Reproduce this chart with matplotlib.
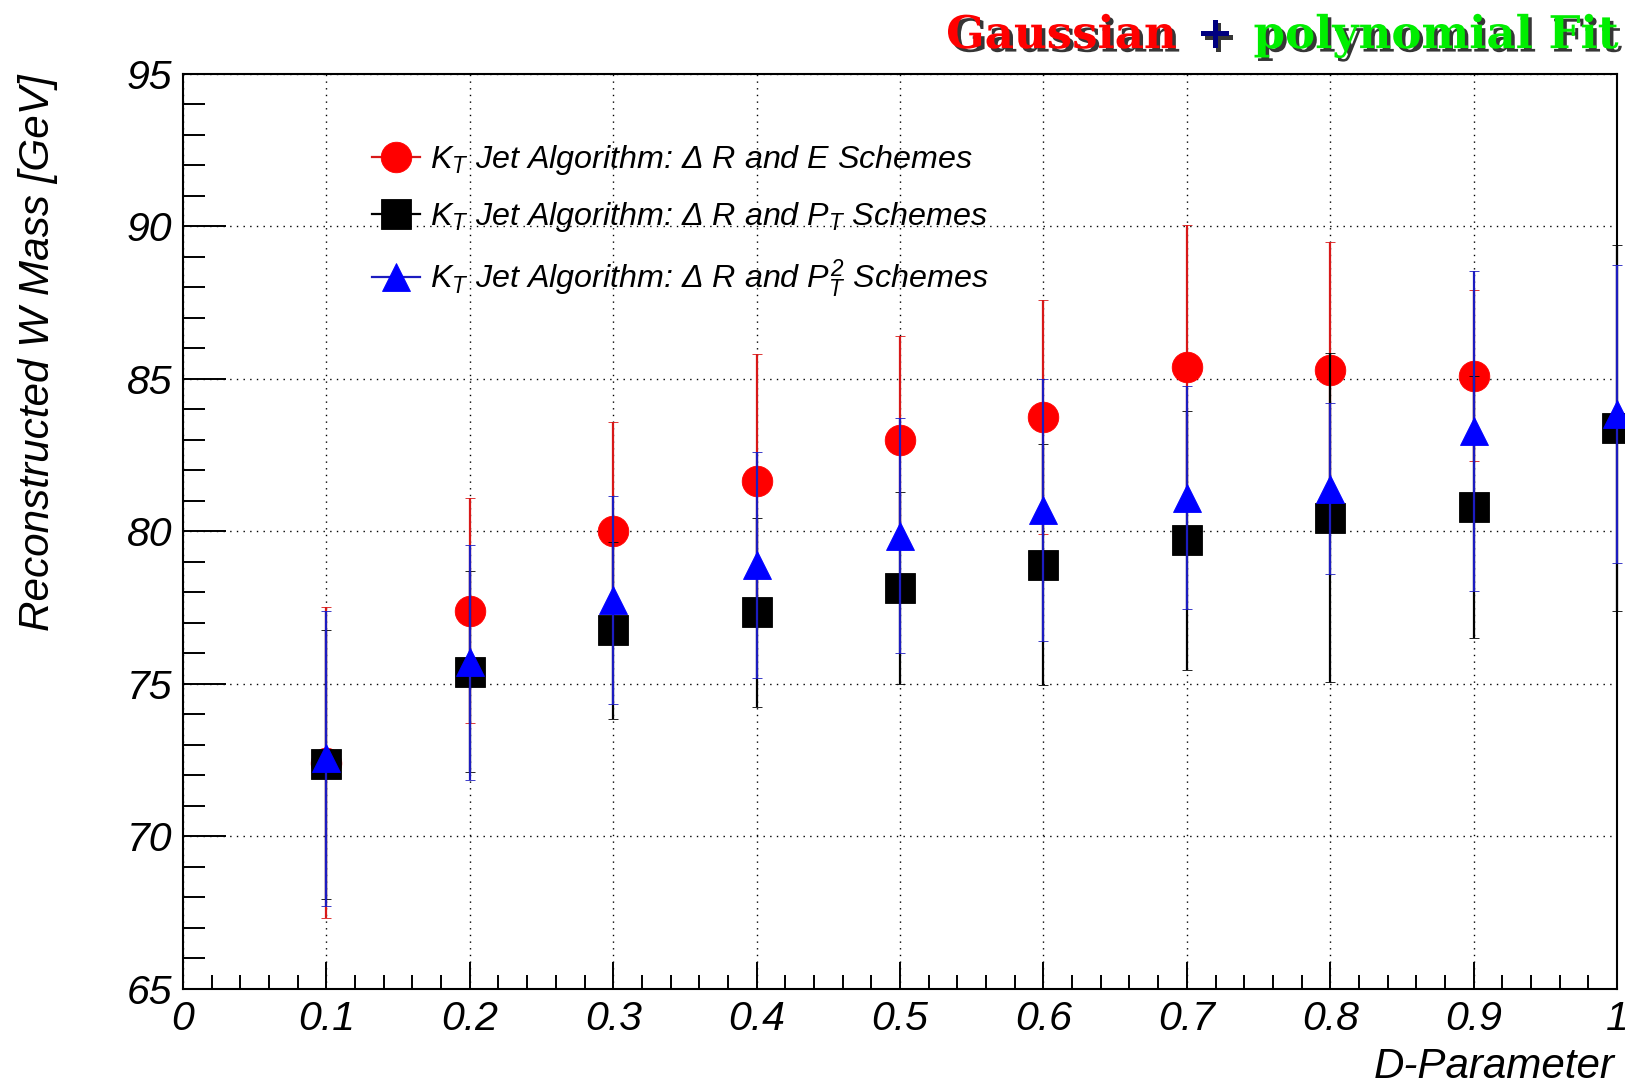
import matplotlib
matplotlib.use("Agg")
import matplotlib.pyplot as plt
import matplotlib.patheffects as pe
from matplotlib.lines import Line2D
from matplotlib.ticker import MultipleLocator, FuncFormatter
from matplotlib.offsetbox import TextArea, HPacker, AnchoredOffsetbox

# D-parameter values of the kT jet algorithm
d_param = [0.1, 0.2, 0.3, 0.4, 0.5, 0.6, 0.7, 0.8, 0.9, 1.0]

# Delta R and E recombination schemes
d_param_e = [0.1, 0.2, 0.3, 0.4, 0.5, 0.6, 0.7, 0.8, 0.9]
mass_e = [72.4, 77.4, 80.0, 81.65, 83.0, 83.75, 85.4, 85.3, 85.1]
err_e = [5.1, 3.7, 3.6, 4.15, 3.4, 3.85, 4.65, 4.2, 2.8]

# Delta R and PT schemes
mass_pt = [72.35, 75.4, 76.75, 77.35, 78.15, 78.9, 79.7, 80.45, 80.8, 83.4]
err_pt = [4.4, 3.3, 2.9, 3.1, 3.15, 3.95, 4.25, 5.4, 4.3, 6.0]

# Delta R and PT^2 schemes
mass_pt2 = [72.55, 75.7, 77.75, 78.9, 79.85, 80.7, 81.1, 81.4, 83.3, 83.85]
err_pt2 = [4.85, 3.85, 3.4, 3.7, 3.85, 4.3, 3.65, 2.8, 5.25, 4.9]

labels = [
    r"$K_{T}$ Jet Algorithm: Δ R and E Schemes",
    r"$K_{T}$ Jet Algorithm: Δ R and $P_{T}$ Schemes",
    r"$K_{T}$ Jet Algorithm: Δ R and $P_{T}^{2}$ Schemes",
]

plt.rcParams["font.family"] = ["Liberation Sans", "DejaVu Sans"]
plt.rcParams["mathtext.fontset"] = "custom"
plt.rcParams["mathtext.it"] = "Liberation Sans:italic"
plt.rcParams["mathtext.rm"] = "Liberation Sans:italic"

fig = plt.figure(figsize=(16.25, 10.85), dpi=100)
ax = fig.add_axes([0.1126, 0.0889, 0.8825, 0.8429])
ax.set_xlim(0, 1)
ax.set_ylim(65, 95)

grid_style = dict(color="black", lw=1.0, ls=(0, (1, 3.8)))
ax.grid(True, which="major", **grid_style)
ax.set_axisbelow(True)

common = dict(capsize=3.6, elinewidth=1.6, capthick=1.6, clip_on=False,
              linestyle="none")
series = [
    (d_param_e, mass_e, err_e, "o", "#ff0000", "#d81818", 22),
    (d_param, mass_pt, err_pt, "s", "#000000", "#000000", 22),
    (d_param, mass_pt2, err_pt2, "^", "#0000ff", "#1c1cc0", 20.5),
]
handles = []
for z, (xs, ys, es, mk, mc, ec, ms) in enumerate(series):
    cont = ax.errorbar(xs, ys, yerr=es, marker=mk, ms=ms, mfc=mc, mec=mc,
                       mew=0.6, ecolor=ec, zorder=3 + z, **common)
    for art in cont.lines[1] + cont.lines[2]:
        art.set_clip_on(False)
    handles.append(Line2D([], [], color=ec, lw=1.6, marker=mk, ms=ms,
                          mfc=mc, mec=mc, mew=0.6))

leg = ax.legend(handles, labels, loc="upper left",
                bbox_to_anchor=(0.1318, 0.9245), frameon=False,
                handlelength=1.5, handletextpad=0.3,
                labelspacing=0.72, borderpad=0, borderaxespad=0,
                prop=dict(family="Liberation Sans", style="italic", size=23.2))

# axis frame and ticks
for sp in ax.spines.values():
    sp.set_linewidth(1.5)
ax.xaxis.set_major_locator(MultipleLocator(0.1))
ax.xaxis.set_minor_locator(MultipleLocator(0.02))
ax.yaxis.set_major_locator(MultipleLocator(5))
ax.yaxis.set_minor_locator(MultipleLocator(1))
ax.xaxis.set_major_formatter(FuncFormatter(lambda v, p: f"{v:g}"))
ax.tick_params(axis="both", which="both", direction="in", width=1.4,
               top=False, right=False)
ax.tick_params(axis="x", which="major", length=19.5, pad=8)
ax.tick_params(axis="x", which="minor", length=10)
ax.tick_params(axis="y", which="major", length=31, pad=7.5)
ax.tick_params(axis="y", which="minor", length=16)
for lab in ax.get_xticklabels() + ax.get_yticklabels():
    lab.set_fontsize(29.5)
    lab.set_fontstyle("italic")

ax.set_xlabel("D-Parameter", fontsize=30.3, style="italic", loc="right")
ax.xaxis.set_label_coords(0.998, -0.064)
ax.xaxis.label.set_va("top")
ax.set_ylabel("Reconstructed W Mass [GeV]", fontsize=30.4, style="italic",
              loc="top")
ax.yaxis.set_label_coords(-0.0874, 1.0)

# heading with drop shadow
shadow = [pe.SimplePatchShadow(offset=(2.5, -2.5), shadow_rgbFace="#202020",
                               alpha=0.9), pe.Normal()]
tprops = dict(fontsize=32.5, fontweight="bold", family="DejaVu Serif",
              style="normal", path_effects=shadow)
parts = [("Gaussian", "#ff0000"), ("+", "#000080"), ("polynomial Fit", "#00ee00")]
boxes = [TextArea(t, textprops=dict(color=c, **tprops)) for t, c in parts]
pack = HPacker(children=boxes, align="baseline", pad=0, sep=14)
anch = AnchoredOffsetbox(loc="upper right", child=pack, pad=0, borderpad=0,
                         frameon=False, bbox_to_anchor=(0.996, 0.987),
                         bbox_transform=fig.transFigure)
fig.add_artist(anch)

fig.savefig("out.png", dpi=100)
